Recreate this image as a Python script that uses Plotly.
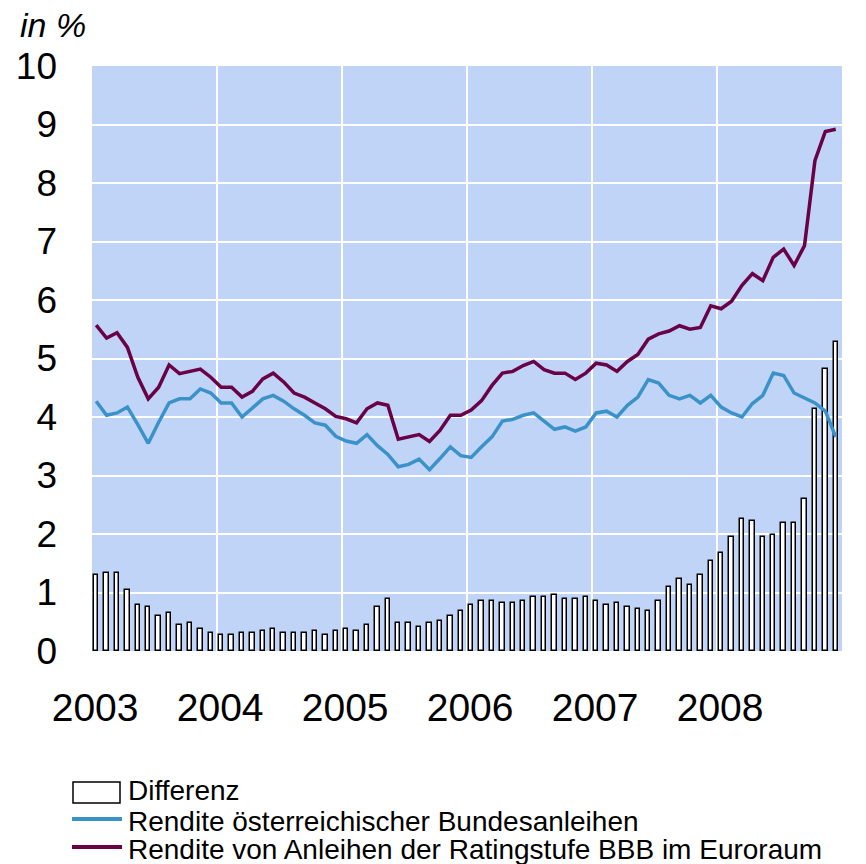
import plotly.graph_objects as go

# ---- data (monthly, Jan 2003 - Dec 2008) ----
months = [f"{y}-{m:02d}" for y in range(2003, 2009) for m in range(1, 13)]

bbb = [5.57, 5.35, 5.44, 5.19, 4.68, 4.31, 4.51, 4.89, 4.74, 4.78, 4.82, 4.68,
       4.51, 4.51, 4.34, 4.44, 4.65, 4.75, 4.60, 4.41, 4.34, 4.24, 4.14, 4.01,
       3.97, 3.90, 4.14, 4.24, 4.20, 3.62, 3.66, 3.70, 3.58, 3.77, 4.03, 4.03,
       4.12, 4.28, 4.54, 4.75, 4.78, 4.88, 4.95, 4.81, 4.75, 4.75, 4.64, 4.75,
       4.92, 4.89, 4.78, 4.95, 5.07, 5.33, 5.42, 5.47, 5.56, 5.50, 5.53, 5.90,
       5.85, 5.98, 6.25, 6.45, 6.33, 6.73, 6.87, 6.59, 6.93, 8.38, 8.88, 8.92]

bund = [4.27, 4.03, 4.07, 4.17, 3.87, 3.55, 3.91, 4.24, 4.31, 4.31, 4.48, 4.41,
        4.24, 4.24, 4.00, 4.15, 4.31, 4.37, 4.27, 4.14, 4.03, 3.90, 3.86, 3.67,
        3.59, 3.55, 3.70, 3.51, 3.36, 3.15, 3.19, 3.28, 3.10, 3.29, 3.49, 3.34,
        3.31, 3.49, 3.66, 3.93, 3.96, 4.03, 4.07, 3.93, 3.79, 3.83, 3.76, 3.83,
        4.07, 4.10, 4.00, 4.20, 4.34, 4.64, 4.58, 4.37, 4.31, 4.37, 4.24, 4.37,
        4.17, 4.07, 4.00, 4.23, 4.37, 4.75, 4.71, 4.41, 4.33, 4.24, 4.10, 3.66]

differenz = [1.30, 1.34, 1.34, 1.04, 0.79, 0.76, 0.59, 0.65, 0.45, 0.48, 0.38, 0.31,
             0.28, 0.28, 0.31, 0.31, 0.35, 0.38, 0.31, 0.31, 0.31, 0.35, 0.28, 0.35,
             0.38, 0.35, 0.45, 0.76, 0.89, 0.48, 0.48, 0.41, 0.48, 0.52, 0.59, 0.69,
             0.79, 0.86, 0.86, 0.82, 0.82, 0.86, 0.93, 0.93, 0.96, 0.89, 0.89, 0.93,
             0.86, 0.79, 0.82, 0.76, 0.72, 0.69, 0.86, 1.10, 1.23, 1.13, 1.30, 1.54,
             1.68, 1.95, 2.26, 2.22, 1.95, 1.98, 2.19, 2.19, 2.60, 4.13, 4.82, 5.29]

year_labels = ["2003", "2004", "2005", "2006", "2007", "2008"]
y_ticks = list(range(0, 11))

legend_labels = ["Differenz",
                 "Rendite österreichischer Bundesanleihen",
                 "Rendite von Anleihen der Ratingstufe BBB im Euroraum"]

# ---- styling ----
BG = "#C0D4F8"
BLUE = "#3B92C9"
PURPLE = "#6A0046"
FONT = "Liberation Sans, Arial, sans-serif"

W, H = 866, 864
L, R, T, B = 92, 24, 66, 213
PW, PH = W - L - R, H - T - B

def px_x(px):
    return (px - L) / PW

def px_y(py):
    return (H - B - py) / PH

xpos = [i + 0.4 for i in range(len(months))]

fig = go.Figure()
fig.add_trace(go.Bar(x=xpos, y=differenz, width=0.42, name=legend_labels[0],
                     marker=dict(color="white", line=dict(color="black", width=1.5)),
                     showlegend=False))
fig.add_trace(go.Scatter(x=xpos, y=bund, mode="lines", name=legend_labels[1],
                         line=dict(color=BLUE, width=3.5), showlegend=False))
fig.add_trace(go.Scatter(x=xpos, y=bbb, mode="lines", name=legend_labels[2],
                         line=dict(color=PURPLE, width=3.5), showlegend=False))

fig.update_layout(
    width=W, height=H,
    margin=dict(l=L, r=R, t=T, b=B, pad=0),
    paper_bgcolor="white", plot_bgcolor=BG,
    font=dict(family=FONT, color="black"),
    bargap=0,
)
fig.update_xaxes(
    range=[0, 72], tickmode="array",
    tickvals=[12 * k + 0.3 for k in range(len(year_labels))], ticktext=year_labels,
    showgrid=False, zeroline=False, showline=False, ticks="",
    tickfont=dict(size=39), ticklabelstandoff=30,
    minor=dict(tickmode="array", tickvals=[12 * k for k in range(1, 6)],
               showgrid=True, gridcolor="white", gridwidth=2, ticks=""),
)
fig.update_yaxes(
    range=[0, 10], tickmode="array", tickvals=y_ticks,
    showgrid=True, gridcolor="white", gridwidth=2,
    zeroline=False, showline=False, ticks="",
    tickfont=dict(size=37), ticklabelstandoff=34,
)

# "in %" header
fig.add_annotation(xref="paper", yref="paper", x=px_x(18), y=px_y(25),
                   xanchor="left", yanchor="middle", showarrow=False,
                   text="<i>in %</i>", font=dict(size=34, family=FONT))

# manual legend
rows_y = [792, 819, 847]
text_y = [790, 821, 849]
fig.add_shape(type="rect", xref="paper", yref="paper",
              x0=px_x(73), x1=px_x(120), y0=px_y(782), y1=px_y(803),
              line=dict(color="black", width=1.5), fillcolor="white")
fig.add_shape(type="line", xref="paper", yref="paper",
              x0=px_x(72), x1=px_x(122), y0=px_y(rows_y[1]), y1=px_y(rows_y[1]),
              line=dict(color=BLUE, width=4))
fig.add_shape(type="line", xref="paper", yref="paper",
              x0=px_x(72), x1=px_x(122), y0=px_y(rows_y[2]), y1=px_y(rows_y[2]),
              line=dict(color=PURPLE, width=4))
for lab, ty in zip(legend_labels, text_y):
    fig.add_annotation(xref="paper", yref="paper", x=px_x(126), y=px_y(ty),
                       xanchor="left", yanchor="middle", showarrow=False,
                       text=lab, font=dict(size=28, family=FONT))

fig.write_html(
    "out.html",
    config={"displayModeBar": False},
    post_script="document.body.style.margin='0';document.body.style.padding='0';"
                "document.documentElement.style.overflow='hidden';",
)
